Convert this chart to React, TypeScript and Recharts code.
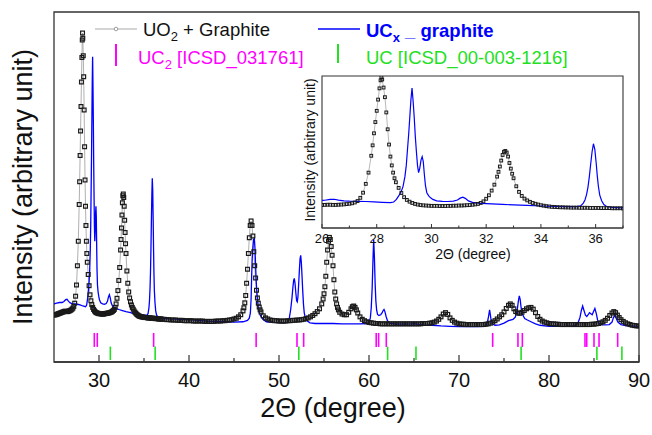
import React from 'react';
import { ComposedChart, Line, Scatter, XAxis, YAxis, ReferenceArea } from 'recharts';

const FONT = 'Arial, "Liberation Sans", sans-serif';
const BLUE = '#0000ff';
const MAGENTA = '#ff00ff';
const GREEN = '#22e022';
const FRAME = '#333';

// 2-theta (deg), intensity (arb.)
const uo2Graphite: number[][] = [
  [25.0, 13.4], [25.1, 13.5], [25.2, 13.5], [25.3, 13.6], [25.4, 13.7], [25.5, 13.8], [25.6, 13.9], [25.7, 14.0],
  [25.8, 14.1], [25.9, 14.2], [26.0, 14.3], [26.1, 14.4], [26.2, 14.5], [26.3, 14.5], [26.4, 14.4], [26.5, 14.4],
  [26.6, 14.5], [26.7, 14.6], [26.8, 14.7], [26.9, 14.9], [27.0, 15.1], [27.1, 15.4], [27.2, 15.9], [27.3, 16.8],
  [27.4, 18.8], [27.5, 22.0], [27.6, 27.5], [27.7, 34.5], [27.8, 45.0], [27.85, 51.5], [27.9, 59.0], [27.95, 66.0],
  [28.0, 73.0], [28.05, 80.0], [28.1, 87.0], [28.14, 92.0], [28.17, 94.0], [28.2, 92.5], [28.25, 87.5], [28.3, 81.5],
  [28.35, 72.0], [28.4, 61.5], [28.45, 52.0], [28.5, 44.5], [28.55, 39.0], [28.6, 34.5], [28.65, 31.0], [28.7, 28.5],
  [28.8, 25.0], [28.9, 21.8], [29.0, 19.2], [29.1, 17.5], [29.2, 16.4], [29.3, 15.6], [29.4, 15.0], [29.5, 14.6],
  [29.6, 14.3], [29.7, 14.1], [29.8, 14.0], [29.9, 13.9], [30.0, 13.8], [30.1, 13.8], [30.2, 13.8], [30.3, 13.7],
  [30.4, 13.7], [30.5, 13.7], [30.6, 13.8], [30.7, 13.8], [30.8, 13.9], [30.9, 13.9], [31.0, 14.0], [31.1, 14.0],
  [31.2, 14.1], [31.3, 14.2], [31.4, 14.3], [31.5, 14.5], [31.6, 14.7], [31.7, 15.0], [31.8, 15.6], [31.9, 16.6],
  [32.0, 18.2], [32.1, 20.4], [32.2, 23.3], [32.3, 27.0], [32.4, 32.0], [32.45, 35.0], [32.5, 38.3], [32.55, 42.0],
  [32.6, 45.5], [32.65, 47.5], [32.7, 48.0], [32.75, 47.0], [32.8, 44.5], [32.85, 40.5], [32.9, 37.0], [32.95, 33.8],
  [33.0, 31.0], [33.1, 26.0], [33.2, 22.5], [33.3, 20.0], [33.4, 18.3], [33.5, 17.2], [33.6, 16.3], [33.7, 15.6],
  [33.8, 15.1], [33.9, 14.6], [34.0, 14.2], [34.1, 13.9], [34.2, 13.6], [34.3, 13.4], [34.4, 13.2], [34.5, 13.1],
  [34.6, 13.0], [34.7, 12.9], [34.8, 12.9], [34.9, 12.8], [35.0, 12.8], [35.1, 12.7], [35.2, 12.7], [35.3, 12.7],
  [35.4, 12.6], [35.5, 12.6], [35.6, 12.6], [35.7, 12.6], [35.8, 12.5], [35.9, 12.5], [36.0, 12.5], [36.1, 12.5],
  [36.2, 12.4], [36.3, 12.4], [36.4, 12.4], [36.5, 12.4], [36.6, 12.3], [36.7, 12.3], [36.8, 12.3], [36.9, 12.3],
  [37.0, 12.2], [37.25, 12.2], [37.5, 12.1], [37.75, 12.1], [38.0, 12.0], [38.25, 12.0], [38.5, 12.0], [38.75, 11.9],
  [39.0, 11.9], [39.25, 11.9], [39.5, 11.8], [39.75, 11.8], [40.0, 11.8], [40.25, 11.8], [40.5, 11.7], [40.75, 11.7],
  [41.0, 11.7], [41.25, 11.7], [41.5, 11.7], [41.75, 11.6], [42.0, 11.6], [42.25, 11.6], [42.5, 11.6], [42.75, 11.6],
  [43.0, 11.7], [43.25, 11.7], [43.5, 11.7], [43.75, 11.8], [44.0, 11.8], [44.25, 11.9], [44.5, 12.0], [44.75, 12.1],
  [45.0, 12.3], [45.25, 12.5], [45.5, 12.9], [45.75, 13.5], [46.0, 14.6], [46.1, 15.5], [46.2, 16.9], [46.3, 19.0],
  [46.4, 22.5], [46.5, 26.5], [46.6, 31.0], [46.7, 35.5], [46.8, 39.0], [46.9, 40.3], [47.0, 39.0], [47.1, 36.0],
  [47.2, 31.5], [47.3, 27.5], [47.4, 24.0], [47.5, 20.5], [47.6, 18.3], [47.7, 16.8], [47.8, 15.7], [47.9, 14.9],
  [48.0, 14.3], [48.25, 13.2], [48.5, 12.6], [48.75, 12.3], [49.0, 12.0], [49.25, 11.9], [49.5, 11.8], [49.75, 11.8],
  [50.0, 11.7], [50.25, 11.7], [50.5, 11.7], [50.75, 11.7], [51.0, 11.8], [51.25, 11.8], [51.5, 11.9], [51.75, 11.9],
  [52.0, 12.0], [52.25, 12.0], [52.5, 12.1], [52.75, 12.2], [53.0, 12.4], [53.25, 12.6], [53.5, 12.9], [53.75, 13.3],
  [54.0, 13.8], [54.25, 14.4], [54.5, 15.2], [54.75, 16.6], [54.9, 18.0], [55.0, 19.5], [55.1, 21.5], [55.2, 24.5],
  [55.3, 28.5], [55.4, 32.0], [55.5, 34.5], [55.6, 35.6], [55.7, 35.0], [55.8, 33.0], [55.9, 30.5], [56.0, 27.5],
  [56.1, 23.5], [56.2, 20.0], [56.3, 18.0], [56.4, 16.6], [56.5, 15.6], [56.6, 14.9], [56.75, 14.2], [57.0, 13.7],
  [57.25, 13.5], [57.5, 13.5], [57.75, 14.2], [58.0, 15.2], [58.15, 15.8], [58.3, 16.0], [58.45, 15.6], [58.6, 14.9],
  [58.75, 14.0], [59.0, 12.9], [59.25, 12.2], [59.5, 11.8], [59.75, 11.5], [60.0, 11.3], [60.25, 11.2], [60.5, 11.1],
  [60.75, 11.0], [61.0, 11.0], [61.25, 10.9], [61.5, 10.9], [61.75, 10.9], [62.0, 10.9], [62.25, 10.9], [62.5, 10.9],
  [62.75, 10.9], [63.0, 10.9], [63.25, 10.9], [63.5, 10.9], [63.75, 10.9], [64.0, 10.9], [64.25, 10.9], [64.5, 10.9],
  [64.75, 10.9], [65.0, 10.9], [65.25, 10.9], [65.5, 10.9], [65.75, 10.9], [66.0, 11.0], [66.25, 11.0], [66.5, 11.0],
  [66.75, 11.1], [67.0, 11.2], [67.25, 11.4], [67.5, 11.7], [67.75, 12.2], [68.0, 12.9], [68.25, 13.7], [68.5, 14.1],
  [68.75, 13.6], [69.0, 12.6], [69.25, 11.9], [69.5, 11.4], [69.75, 11.1], [70.0, 10.9], [70.25, 10.8], [70.5, 10.8],
  [70.75, 10.7], [71.0, 10.7], [71.25, 10.7], [71.5, 10.7], [71.75, 10.7], [72.0, 10.7], [72.25, 10.7], [72.5, 10.7],
  [72.75, 10.7], [73.0, 10.8], [73.25, 10.9], [73.5, 11.1], [73.75, 11.4], [74.0, 11.8], [74.25, 12.3], [74.5, 12.9],
  [74.75, 13.5], [75.0, 14.3], [75.25, 15.3], [75.5, 16.2], [75.7, 16.6], [75.9, 16.2], [76.1, 15.2], [76.3, 14.4],
  [76.5, 14.0], [76.75, 13.9], [77.0, 14.2], [77.25, 14.7], [77.5, 15.2], [77.75, 15.5], [78.0, 15.6], [78.25, 15.1],
  [78.5, 14.1], [78.75, 13.0], [79.0, 12.2], [79.25, 11.7], [79.5, 11.4], [79.75, 11.2], [80.0, 11.0], [80.25, 10.9],
  [80.5, 10.9], [80.75, 10.8], [81.0, 10.8], [81.25, 10.7], [81.5, 10.7], [81.75, 10.7], [82.0, 10.7], [82.25, 10.7],
  [82.5, 10.7], [82.75, 10.7], [83.0, 10.7], [83.25, 10.7], [83.5, 10.7], [83.75, 10.7], [84.0, 10.7], [84.25, 10.7],
  [84.5, 10.7], [84.75, 10.8], [85.0, 10.8], [85.25, 10.9], [85.5, 11.0], [85.75, 11.2], [86.0, 11.5], [86.25, 11.9],
  [86.5, 12.5], [86.75, 13.3], [87.0, 14.0], [87.2, 14.4], [87.4, 14.1], [87.6, 13.4], [87.8, 12.7], [88.0, 12.1],
  [88.25, 11.6], [88.5, 11.2], [88.75, 10.9], [89.0, 10.7], [89.25, 10.5], [89.5, 10.4], [89.75, 10.3], [90.0, 10.3],
];

const ucxGraphite: number[][] = [
  [25.0, 16.6], [25.3, 16.8], [25.6, 17.0], [25.9, 17.0], [26.1, 17.3], [26.3, 17.8], [26.45, 17.9], [26.6, 17.4],
  [26.8, 16.9], [27.0, 16.7], [27.3, 16.6], [27.6, 16.5], [27.9, 16.3], [28.2, 16.0], [28.5, 15.8], [28.62, 16.2],
  [28.72, 17.8], [28.82, 20.5], [28.9, 23.0], [28.96, 25.8], [29.03, 32.0], [29.08, 39.0], [29.12, 48.0], [29.17, 59.0],
  [29.21, 69.5], [29.25, 80.0], [29.29, 87.2], [29.33, 79.0], [29.37, 69.0], [29.41, 57.0], [29.45, 47.5], [29.49, 39.0],
  [29.53, 34.5], [29.57, 37.0], [29.62, 42.5], [29.66, 44.5], [29.7, 41.5], [29.74, 33.5], [29.78, 26.5], [29.83, 22.0],
  [29.9, 20.0], [29.97, 18.8], [30.05, 17.8], [30.19, 16.9], [30.4, 16.6], [30.6, 16.5], [30.8, 16.7], [30.95, 17.4],
  [31.05, 18.6], [31.15, 19.2], [31.25, 18.3], [31.35, 16.9], [31.5, 16.0], [31.8, 15.4], [32.2, 15.0], [32.6, 14.7],
  [33.0, 14.4], [33.5, 14.1], [34.0, 13.7], [34.5, 13.4], [35.0, 13.3], [35.3, 13.3], [35.45, 13.8], [35.55, 15.5],
  [35.61, 17.5], [35.67, 21.0], [35.72, 25.5], [35.77, 32.0], [35.82, 40.0], [35.87, 47.5], [35.92, 52.5], [35.97, 49.0],
  [36.02, 40.5], [36.06, 32.5], [36.1, 26.0], [36.15, 20.5], [36.22, 17.0], [36.3, 14.6], [36.4, 13.4], [36.6, 12.8],
  [37.0, 12.5], [38.0, 12.3], [39.0, 12.2], [40.0, 12.1], [41.0, 11.9], [42.0, 11.7], [43.0, 11.6], [44.0, 11.5],
  [45.0, 11.4], [46.0, 11.5], [46.5, 11.9], [46.7, 12.5], [46.82, 14.0], [46.9, 18.0], [46.96, 24.4], [47.02, 29.5],
  [47.1, 33.0], [47.18, 35.0], [47.26, 35.3], [47.33, 32.5], [47.4, 27.5], [47.46, 23.5], [47.52, 20.6], [47.6, 17.8],
  [47.7, 15.6], [47.9, 13.4], [48.2, 12.2], [48.6, 11.5], [49.5, 11.3], [50.5, 11.2], [51.0, 11.4], [51.15, 12.6],
  [51.3, 15.0], [51.45, 18.5], [51.55, 21.5], [51.63, 23.3], [51.7, 23.9], [51.78, 22.5], [51.88, 19.5], [51.96, 17.5],
  [52.03, 17.2], [52.1, 18.5], [52.18, 22.0], [52.26, 26.0], [52.34, 29.5], [52.41, 30.5], [52.48, 28.5], [52.56, 24.5],
  [52.63, 20.6], [52.72, 16.5], [52.8, 14.2], [52.9, 12.8], [53.1, 11.8], [53.45, 11.2], [54.0, 11.0], [55.0, 11.0],
  [56.0, 11.0], [57.0, 10.9], [58.0, 10.9], [59.0, 10.9], [59.8, 11.0], [60.0, 11.4], [60.15, 12.6], [60.25, 15.5],
  [60.35, 21.0], [60.44, 29.0], [60.52, 35.0], [60.6, 30.0], [60.68, 22.5], [60.76, 17.5], [60.85, 14.8], [60.95, 13.6],
  [61.1, 13.3], [61.3, 13.5], [61.45, 14.0], [61.57, 14.7], [61.67, 15.0], [61.77, 14.4], [61.9, 13.0], [62.05, 11.8],
  [62.3, 11.0], [63.0, 10.8], [64.0, 10.8], [64.85, 10.9], [65.0, 11.4], [65.15, 10.9], [66.0, 10.6], [67.0, 10.5],
  [68.0, 10.3], [69.0, 10.2], [70.0, 10.1], [71.0, 10.1], [72.0, 10.1], [72.9, 10.2], [73.1, 10.8], [73.25, 12.5],
  [73.4, 14.9], [73.55, 12.3], [73.7, 10.9], [74.0, 10.5], [74.5, 10.6], [75.0, 11.1], [75.5, 11.8], [76.0, 12.2],
  [76.25, 12.8], [76.45, 14.5], [76.6, 17.5], [76.7, 18.9], [76.8, 17.8], [76.9, 15.5], [77.05, 13.6], [77.3, 12.4],
  [77.6, 12.0], [78.0, 11.5], [78.5, 10.9], [79.0, 10.5], [80.0, 10.2], [81.0, 10.2], [82.0, 10.2], [82.8, 10.3],
  [83.2, 11.0], [83.45, 12.8], [83.6, 14.8], [83.74, 16.0], [83.88, 14.8], [84.05, 13.4], [84.2, 13.0], [84.35, 13.5],
  [84.5, 14.1], [84.65, 13.8], [84.8, 13.5], [84.95, 14.4], [85.1, 15.3], [85.25, 13.9], [85.4, 12.0], [85.55, 11.1],
  [85.8, 10.7], [86.2, 10.6], [86.7, 10.7], [87.0, 11.4], [87.15, 12.6], [87.3, 13.4], [87.45, 12.6], [87.65, 11.4],
  [88.0, 10.7], [88.5, 10.4], [89.0, 10.3], [90.0, 10.2],
];

// reference reflection positions (2-theta)
const uc2Lines = [29.48, 29.81, 36.07, 47.46, 52.0, 52.74, 60.8, 61.07, 61.92, 73.74, 76.55, 77.04, 84.0, 84.19, 85.0, 85.56, 87.63];
const ucLines = [31.26, 36.24, 52.2, 62.07, 65.22, 76.9, 85.32, 88.1];

const mainTicks = [30, 35, 40, 45, 50, 55, 60, 65, 70, 75, 80, 85, 90];
const insetTicks = [26, 27, 28, 29, 30, 31, 32, 33, 34, 35, 36, 37];

// vertical level of the stick rows, in the main y units
const UC2_ROW = 6.3;
const UC_ROW = 2.5;

const toPoints = (rows: number[][]) => rows.map(([x, y]) => ({ x, y }));
const blackPts = toPoints(uo2Graphite);
const bluePts = toPoints(ucxGraphite);
const insetBlack = blackPts.filter((p) => p.x >= 26 && p.x <= 37);
const uc2Pts = uc2Lines.map((x) => ({ x, y: UC2_ROW }));
const ucPts = ucLines.map((x) => ({ x, y: UC_ROW }));

const squareDot = (size: number, width: number) => (p: any) => {
  if (p.cx == null || p.cy == null) return <g key={p.index} />;
  return (
    <rect
      key={p.index}
      x={p.cx - size / 2}
      y={p.cy - size / 2}
      width={size}
      height={size}
      fill="none"
      stroke="#1a1a1a"
      strokeWidth={width}
    />
  );
};

const stick = (color: string, half: number) => (p: any) => (
  <line x1={p.cx} x2={p.cx} y1={p.cy - half} y2={p.cy + half} stroke={color} strokeWidth={1.6} />
);

const MainTick = (props: any) => {
  const { x, y, payload } = props;
  const major = payload.value % 10 === 0;
  return (
    <g>
      <line x1={x} x2={x} y1={y} y2={y - (major ? 7 : 4)} stroke={FRAME} strokeWidth={1.2} />
      {major && (
        <text x={x} y={y + 25} textAnchor="middle" fontSize={20} fontFamily={FONT} fill="#111">
          {payload.value}
        </text>
      )}
    </g>
  );
};

const InsetTick = (props: any) => {
  const { x, y, payload } = props;
  const major = payload.value % 2 === 0;
  return (
    <g>
      <line x1={x} x2={x} y1={y} y2={y - (major ? 4 : 2.5)} stroke={FRAME} strokeWidth={1} />
      {major && (
        <text x={x} y={y + 15} textAnchor="middle" fontSize={13} fontFamily={FONT} fill="#111">
          {payload.value}
        </text>
      )}
    </g>
  );
};

const Overlay = () => (
  <svg width={652} height={435} style={{ position: 'absolute', left: 0, top: 0, pointerEvents: 'none' }}>
    <g fontFamily={FONT}>
      {/* legend */}
      <line x1={95} x2={137} y1={29} y2={29} stroke="#aaa" strokeWidth={1.2} />
      <circle cx={116} cy={29} r={1.8} fill="#fff" stroke="#888" strokeWidth={0.8} />
      <text x={143} y={36} fontSize={18.5} fill="#111">
        UO<tspan dy={5} fontSize={13}>2</tspan><tspan dy={-5}> + Graphite</tspan>
      </text>
      <line x1={116} x2={116} y1={44} y2={66} stroke={MAGENTA} strokeWidth={2} />
      <text x={138} y={64} fontSize={18.5} fill={MAGENTA}>
        UC<tspan dy={5} fontSize={13}>2</tspan><tspan dy={-5}> [ICSD_031761]</tspan>
      </text>
      <line x1={318} x2={360} y1={29} y2={29} stroke={BLUE} strokeWidth={1.3} />
      <text x={366} y={36.5} fontSize={18.5} fontWeight="bold" fill={BLUE}>
        UC<tspan dy={5} fontSize={13}>x</tspan><tspan dy={-5}> _ graphite</tspan>
      </text>
      <line x1={338} x2={338} y1={44} y2={63} stroke={GREEN} strokeWidth={2} />
      <text x={366} y={64} fontSize={18.5} fill={GREEN}>
        UC [ICSD_00-003-1216]
      </text>
      {/* main axis titles */}
      <text x={333} y={417} textAnchor="middle" fontSize={27} fill="#111">2Θ (degree)</text>
      <text transform="translate(32,187) rotate(-90)" textAnchor="middle" fontSize={27} fill="#111">
        Intensity (arbitrary unit)
      </text>
      {/* inset axis titles */}
      <text x={473} y={259} textAnchor="middle" fontSize={14} fill="#111">2Θ (degree)</text>
      <text transform="translate(315,150) rotate(-90)" textAnchor="middle" fontSize={14} fill="#111">
        Intensity (arbitrary unit)
      </text>
    </g>
  </svg>
);

export default function App() {
  return (
    <div style={{ position: 'absolute', left: 0, top: 0, width: 652, height: 435, background: '#fff' }}>
      <ComposedChart width={652} height={435} margin={{ top: 12, right: 13, bottom: 43, left: 54 }}>
        <XAxis
          dataKey="x"
          type="number"
          domain={[25, 90]}
          ticks={mainTicks}
          interval={0}
          tick={<MainTick />}
          tickSize={0}
          tickMargin={0}
          tickLine={false}
          axisLine={{ stroke: FRAME, strokeWidth: 1.3 }}
          height={30}
          allowDataOverflow
        />
        <YAxis dataKey="y" type="number" domain={[0, 100]} hide allowDataOverflow />
        <ReferenceArea x1={25} x2={90} y1={0} y2={100} fill="none" stroke={FRAME} strokeWidth={1.3} />
        <Line
          data={blackPts}
          dataKey="y"
          type="linear"
          stroke="#9a9a9a"
          strokeWidth={0.8}
          dot={squareDot(3.8, 1.2)}
          activeDot={false}
          isAnimationActive={false}
        />
        <Line
          data={bluePts}
          dataKey="y"
          type="linear"
          stroke={BLUE}
          strokeWidth={1.3}
          dot={false}
          activeDot={false}
          isAnimationActive={false}
        />
        <Scatter data={uc2Pts} dataKey="y" shape={stick(MAGENTA, 7)} isAnimationActive={false} />
        <Scatter data={ucPts} dataKey="y" shape={stick(GREEN, 6.7)} isAnimationActive={false} />
      </ComposedChart>

      <div style={{ position: 'absolute', left: 280, top: 70 }}>
        <ComposedChart width={360} height={200} margin={{ top: 6, right: 17, bottom: 22, left: 42 }}>
          <XAxis
            dataKey="x"
            type="number"
            domain={[26, 37]}
            ticks={insetTicks}
            interval={0}
            tick={<InsetTick />}
            tickSize={0}
            tickMargin={0}
            tickLine={false}
            axisLine={{ stroke: FRAME, strokeWidth: 1.1 }}
            height={20}
            allowDataOverflow
          />
          <YAxis dataKey="y" type="number" domain={[0, 94.7]} hide allowDataOverflow />
          <ReferenceArea x1={26} x2={37} y1={0} y2={94.7} fill="none" stroke={FRAME} strokeWidth={1.1} />
          <Line
            data={insetBlack}
            dataKey="y"
            type="linear"
            stroke="#9a9a9a"
            strokeWidth={0.7}
            dot={squareDot(2.8, 1.0)}
            activeDot={false}
            isAnimationActive={false}
          />
          <Line
            data={bluePts}
            dataKey="y"
            type="linear"
            stroke={BLUE}
            strokeWidth={1.2}
            dot={false}
            activeDot={false}
            isAnimationActive={false}
          />
        </ComposedChart>
      </div>

      <Overlay />
    </div>
  );
}
